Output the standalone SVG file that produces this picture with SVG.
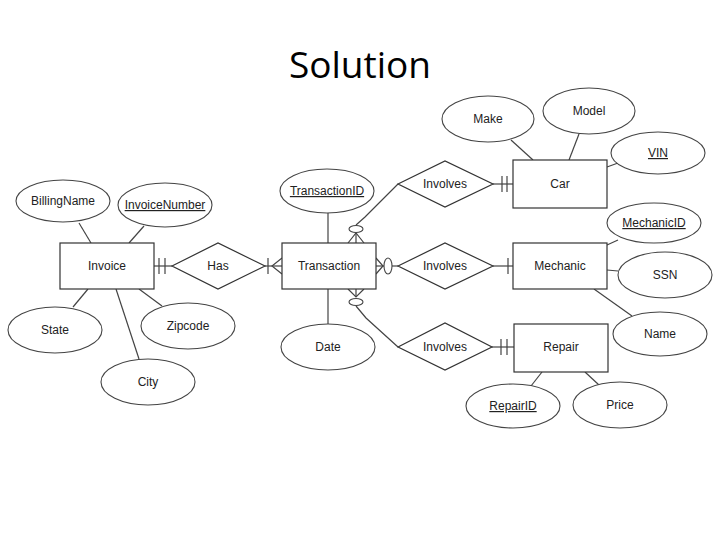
<svg xmlns="http://www.w3.org/2000/svg" width="720" height="540" viewBox="0 0 720 540">
<style>
.e{fill:#fff;stroke:#444;stroke-width:1.1}
.r{fill:#fff;stroke:#333;stroke-width:1.2}
.l{fill:none;stroke:#444;stroke-width:1.2}
.t{font-family:"Liberation Sans",Arial,sans-serif;font-size:12px;fill:#222;text-anchor:middle}
.u{text-decoration:underline}
</style>
<rect width="720" height="540" fill="#fff"/>
<text x="360" y="78" font-family="'Open Sans','Noto Sans',sans-serif" font-size="37" text-anchor="middle" fill="#000">Solution</text>
<g id="connectors">
<line class="l" x1="79" y1="223" x2="91" y2="243"/>
<line class="l" x1="144" y1="226" x2="129" y2="243"/>
<line class="l" x1="88" y1="289" x2="73" y2="307"/>
<line class="l" x1="116" y1="289" x2="139" y2="359"/>
<line class="l" x1="139" y1="289" x2="162" y2="306"/>
<line class="l" x1="154" y1="266" x2="172" y2="266"/>
<line class="l" x1="159" y1="258" x2="159" y2="274"/>
<line class="l" x1="165" y1="258" x2="165" y2="274"/>
<line class="l" x1="265" y1="266" x2="282" y2="266"/>
<line class="l" x1="268" y1="258" x2="268" y2="274"/>
<polyline class="l" points="282,258 272,266 282,274"/>
<line class="l" x1="328" y1="213" x2="328" y2="243"/>
<line class="l" x1="328" y1="289" x2="328" y2="324"/>
<polyline class="l" points="348,243 356,233 364,243"/>
<line class="l" x1="356" y1="233" x2="356" y2="243"/>
<ellipse class="e" cx="356" cy="229" rx="7" ry="3.5"/>
<polyline class="l" points="356,225 365,217 398,184"/>
<polyline class="l" points="376,258 383,266 376,274"/>
<line class="l" x1="376" y1="266" x2="384" y2="266"/>
<ellipse class="e" cx="388" cy="266" rx="4" ry="8"/>
<line class="l" x1="392" y1="266" x2="398" y2="266"/>
<polyline class="l" points="348,289 356,297 364,289"/>
<line class="l" x1="356" y1="289" x2="356" y2="297"/>
<ellipse class="e" cx="356" cy="302" rx="7" ry="3.5"/>
<polyline class="l" points="356,306 366,318 398,347"/>
<line class="l" x1="493" y1="184" x2="513" y2="184"/>
<line class="l" x1="502" y1="176" x2="502" y2="192"/>
<line class="l" x1="507" y1="176" x2="507" y2="192"/>
<line class="l" x1="493" y1="266" x2="513" y2="266"/>
<line class="l" x1="508" y1="258" x2="508" y2="274"/>
<line class="l" x1="492" y1="347" x2="514" y2="347"/>
<line class="l" x1="501" y1="339" x2="501" y2="355"/>
<line class="l" x1="507" y1="339" x2="507" y2="355"/>
<line class="l" x1="511" y1="140" x2="533" y2="160"/>
<line class="l" x1="579" y1="134" x2="569" y2="160"/>
<line class="l" x1="618" y1="163" x2="607" y2="167"/>
<line class="l" x1="607" y1="245" x2="618" y2="240"/>
<line class="l" x1="607" y1="270" x2="618" y2="271"/>
<line class="l" x1="594" y1="289" x2="632" y2="316"/>
<line class="l" x1="542" y1="372" x2="531" y2="386"/>
<line class="l" x1="585" y1="372" x2="599" y2="385"/>
</g>
<g id="Invoice"><rect class="r" x="60" y="243" width="94" height="46"/><text class="t" x="107" y="270">Invoice</text></g>
<g id="BillingName"><ellipse class="e" cx="63" cy="201" rx="47" ry="21"/><text class="t" x="63" y="205">BillingName</text></g>
<g id="InvoiceNumber"><ellipse class="e" cx="165" cy="205" rx="47" ry="22"/><text class="t u" x="165" y="209">InvoiceNumber</text></g>
<g id="State"><ellipse class="e" cx="55" cy="330" rx="47" ry="23"/><text class="t" x="55" y="334">State</text></g>
<g id="Zipcode"><ellipse class="e" cx="188" cy="326" rx="47" ry="23"/><text class="t" x="188" y="330">Zipcode</text></g>
<g id="City"><ellipse class="e" cx="148" cy="382" rx="47" ry="23"/><text class="t" x="148" y="386">City</text></g>
<g id="Has"><polygon class="r" points="172,266 218,243 265,266 218,289"/><text class="t" x="218" y="270">Has</text></g>
<g id="Transaction"><rect class="r" x="282" y="243" width="94" height="46"/><text class="t" x="329" y="270">Transaction</text></g>
<g id="TransactionID"><ellipse class="e" cx="327" cy="191" rx="47" ry="22"/><text class="t u" x="327" y="195">TransactionID</text></g>
<g id="Date"><ellipse class="e" cx="328" cy="347" rx="47" ry="23"/><text class="t" x="328" y="351">Date</text></g>
<g id="InvolvesCar"><polygon class="r" points="398,184 445,161 493,184 445,207"/><text class="t" x="445" y="188">Involves</text></g>
<g id="InvolvesMechanic"><polygon class="r" points="398,266 445,243 493,266 445,289"/><text class="t" x="445" y="270">Involves</text></g>
<g id="InvolvesRepair"><polygon class="r" points="398,347 445,323 492,347 445,370"/><text class="t" x="445" y="351">Involves</text></g>
<g id="Car"><rect class="r" x="513" y="160" width="94" height="48"/><text class="t" x="560" y="188">Car</text></g>
<g id="Make"><ellipse class="e" cx="488" cy="119" rx="46" ry="23"/><text class="t" x="488" y="123">Make</text></g>
<g id="Model"><ellipse class="e" cx="589" cy="111" rx="46" ry="23"/><text class="t" x="589" y="115">Model</text></g>
<g id="VIN"><ellipse class="e" cx="658" cy="153" rx="47" ry="21"/><text class="t u" x="658" y="157">VIN</text></g>
<g id="Mechanic"><rect class="r" x="513" y="243" width="94" height="46"/><text class="t" x="560" y="270">Mechanic</text></g>
<g id="MechanicID"><ellipse class="e" cx="654" cy="223" rx="47" ry="20"/><text class="t u" x="654" y="227">MechanicID</text></g>
<g id="SSN"><ellipse class="e" cx="665" cy="275" rx="47" ry="23"/><text class="t" x="665" y="279">SSN</text></g>
<g id="Name"><ellipse class="e" cx="660" cy="334" rx="47" ry="22"/><text class="t" x="660" y="338">Name</text></g>
<g id="Repair"><rect class="r" x="514" y="324" width="94" height="48"/><text class="t" x="561" y="351">Repair</text></g>
<g id="RepairID"><ellipse class="e" cx="513" cy="406" rx="47" ry="22"/><text class="t u" x="513" y="410">RepairID</text></g>
<g id="Price"><ellipse class="e" cx="620" cy="405" rx="47" ry="23"/><text class="t" x="620" y="409">Price</text></g>
</svg>
